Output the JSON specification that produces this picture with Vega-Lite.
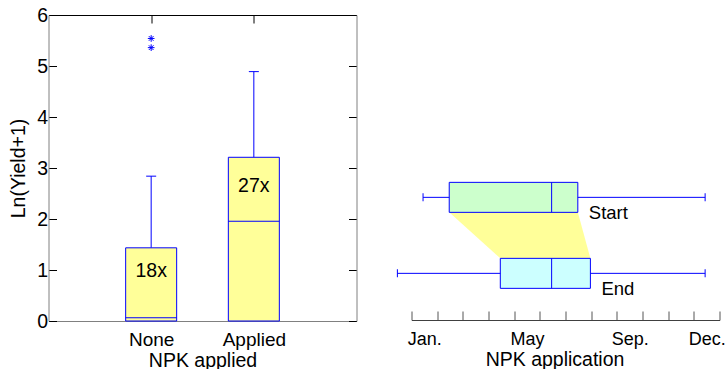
{
  "$schema": "https://vega.github.io/schema/vega-lite/v6.json",
  "background": "white",
  "padding": {"left": 8.5, "top": 5, "right": 5, "bottom": 5},
  "config": {
    "font": "Liberation Sans",
    "view": {"stroke": null},
    "axis": {"grid": false, "labelColor": "#000", "titleColor": "#000", "titleFontWeight": "normal"}
  },
  "datasets": {
    "yields": [
      {"npk": "None", "lo": 0, "q1": 0, "median": 0.065, "q3": 1.435, "hi": 2.84, "mean": 0.98, "trials": "18x"},
      {"npk": "Applied", "lo": 0, "q1": 0, "median": 1.957, "q3": 3.21, "hi": 4.89, "mean": 2.64, "trials": "27x"}
    ],
    "outliers": [
      {"npk": "None", "value": 5.54},
      {"npk": "None", "value": 5.36}
    ],
    "timing": [
      {"phase": "Start", "lane": 1, "lo": 0.45, "q1": 1.47, "median": 5.46, "q3": 6.48, "hi": 11.44},
      {"phase": "End", "lane": 0, "lo": -0.55, "q1": 3.46, "median": 5.46, "q3": 6.97, "hi": 11.44}
    ]
  },
  "spacing": 39,
  "hconcat": [
    {
      "width": 308,
      "height": 306,
      "resolve": {"axis": {"x": "independent", "y": "independent"}},
      "layer": [
        {
          "data": {"name": "yields"},
          "encoding": {
            "x": {
              "field": "npk", "type": "nominal",
              "scale": {"type": "point", "domain": ["None", "Applied"], "padding": 1},
              "axis": {"orient": "bottom", "title": "NPK applied", "labelAngle": 0, "tickSize": -8, "tickColor": "#000", "domainColor": "#808080", "labelFontSize": 19, "labelPadding": 17, "titleFontSize": 19.5, "titlePadding": 2}
            }
          },
          "layer": [
            {
              "mark": {"type": "rule", "color": "#0000ff"},
              "encoding": {
                "y": {
                  "field": "q3", "type": "quantitative",
                  "scale": {"domain": [0, 6], "nice": false},
                  "axis": {"orient": "left", "title": "Ln(Yield+1)", "values": [0, 1, 2, 3, 4, 5, 6], "tickSize": -8, "tickColor": "#000", "domainColor": "#808080", "labelFontSize": 19.5, "labelPadding": 9, "titleFontSize": 19.5, "titlePadding": 8}
                },
                "y2": {"field": "hi"}
              }
            },
            {
              "mark": {"type": "rule", "color": "#0000ff"},
              "encoding": {"y": {"field": "lo", "type": "quantitative"}, "y2": {"field": "q1"}}
            },
            {
              "mark": {"type": "tick", "orient": "horizontal", "color": "#0000ff", "size": 10, "thickness": 1, "opacity": 1},
              "encoding": {"y": {"field": "hi", "type": "quantitative"}}
            },
            {
              "mark": {"type": "bar", "width": 51, "fill": "#ffff99", "stroke": "#0000ff", "strokeWidth": 1},
              "encoding": {"y": {"field": "q1", "type": "quantitative"}, "y2": {"field": "q3"}}
            },
            {
              "mark": {"type": "tick", "orient": "horizontal", "color": "#0000ff", "size": 51, "thickness": 1, "opacity": 1},
              "encoding": {"y": {"field": "median", "type": "quantitative"}}
            },
            {
              "mark": {"type": "text", "fontSize": 19.5, "baseline": "middle", "color": "#000"},
              "encoding": {"y": {"field": "mean", "type": "quantitative"}, "text": {"field": "trials"}}
            }
          ]
        },
        {
          "data": {"name": "outliers"},
          "mark": {"type": "point", "shape": "M-1,0H1M0,-1V1M-0.7,-0.7L0.7,0.7M-0.7,0.7L0.7,-0.7", "filled": false, "stroke": "#0000ff", "strokeWidth": 1, "size": 45, "opacity": 1},
          "encoding": {
            "x": {
              "field": "npk", "type": "nominal",
              "scale": {"type": "point", "domain": ["None", "Applied"], "padding": 1},
              "axis": {"orient": "top", "labels": false, "title": null, "tickSize": -8, "tickColor": "#000", "domainColor": "#000"}
            },
            "y": {
              "field": "value", "type": "quantitative",
              "axis": {"orient": "right", "labels": false, "title": null, "values": [0, 1, 2, 3, 4, 5, 6], "tickSize": -8, "tickColor": "#000", "domainColor": "#808080"}
            }
          }
        }
      ]
    },
    {
      "width": 308,
      "height": 305,
      "data": {"name": "timing"},
      "resolve": {"axis": {"x": "independent"}},
      "encoding": {
        "y": {"field": "lane", "type": "quantitative", "scale": {"domain": [-1.34, 5.29], "nice": false, "zero": false}, "axis": null}
      },
      "layer": [
        {
          "mark": {"type": "area", "orient": "horizontal", "color": "#ffff99", "opacity": 1},
          "encoding": {
            "x": {
              "field": "q1", "type": "quantitative",
              "scale": {"domain": [0, 12], "nice": false, "zero": false},
              "axis": {
                "orient": "bottom", "values": [0, 1, 2, 3, 4, 5, 6, 7, 8, 9, 10, 11, 12],
                "tickSize": -9, "tickColor": "#555", "domainColor": "#404040",
                "labels": false, "title": null
              }
            },
            "x2": {"field": "q3"}
          }
        },
        {
          "transform": [{"filter": "datum.phase === 'Start'"}],
          "layer": [
            {
              "mark": {"type": "rule", "color": "#0000ff", "yOffset": -15},
              "encoding": {
                "x": {
                  "field": "lo", "type": "quantitative",
                  "axis": {
                    "orient": "bottom", "values": [0.5, 4.5, 8.5, 11.5], "ticks": false, "domain": false,
                    "labelExpr": "datum.value < 1 ? 'Jan.' : datum.value < 5 ? 'May' : datum.value < 9 ? 'Sep.' : 'Dec.'",
                    "labelFlush": false, "labelOverlap": false, "labelFontSize": 18, "labelPadding": 10.5,
                    "title": "NPK application", "titleFontSize": 19.5, "titlePadding": 2, "titleX": 143
                  }
                },
                "x2": {"field": "hi"}
              }
            },
            {"mark": {"type": "tick", "orient": "vertical", "color": "#0000ff", "size": 8, "thickness": 1, "opacity": 1, "yOffset": -15}, "encoding": {"x": {"field": "lo", "type": "quantitative"}}},
            {"mark": {"type": "tick", "orient": "vertical", "color": "#0000ff", "size": 8, "thickness": 1, "opacity": 1, "yOffset": -15}, "encoding": {"x": {"field": "hi", "type": "quantitative"}}},
            {"mark": {"type": "rect", "fill": "#ccffcc", "stroke": "#0000ff", "strokeWidth": 1, "y2Offset": -30}, "encoding": {"x": {"field": "q1", "type": "quantitative"}, "x2": {"field": "q3"}, "y2": {"field": "lane"}}},
            {"mark": {"type": "rule", "color": "#0000ff", "y2Offset": -30}, "encoding": {"x": {"field": "median", "type": "quantitative"}, "y2": {"field": "lane"}}},
            {"mark": {"type": "text", "align": "left", "baseline": "alphabetic", "dx": 11, "dy": 7, "fontSize": 18.5, "color": "#000"}, "encoding": {"x": {"field": "q3", "type": "quantitative"}, "text": {"field": "phase"}}}
          ]
        },
        {
          "transform": [{"filter": "datum.phase === 'End'"}],
          "layer": [
            {"mark": {"type": "rule", "color": "#0000ff", "yOffset": 15}, "encoding": {"x": {"field": "lo", "type": "quantitative", "axis": null}, "x2": {"field": "hi"}}},
            {"mark": {"type": "tick", "orient": "vertical", "color": "#0000ff", "size": 8, "thickness": 1, "opacity": 1, "yOffset": 15}, "encoding": {"x": {"field": "lo", "type": "quantitative", "axis": null}}},
            {"mark": {"type": "tick", "orient": "vertical", "color": "#0000ff", "size": 8, "thickness": 1, "opacity": 1, "yOffset": 15}, "encoding": {"x": {"field": "hi", "type": "quantitative", "axis": null}}},
            {"mark": {"type": "rect", "fill": "#ccffff", "stroke": "#0000ff", "strokeWidth": 1, "y2Offset": 30}, "encoding": {"x": {"field": "q1", "type": "quantitative", "axis": null}, "x2": {"field": "q3"}, "y2": {"field": "lane"}}},
            {"mark": {"type": "rule", "color": "#0000ff", "y2Offset": 30}, "encoding": {"x": {"field": "median", "type": "quantitative", "axis": null}, "y2": {"field": "lane"}}},
            {"mark": {"type": "text", "align": "left", "baseline": "alphabetic", "dx": 11, "dy": 37, "fontSize": 18.5, "color": "#000"}, "encoding": {"x": {"field": "q3", "type": "quantitative", "axis": null}, "text": {"field": "phase"}}}
          ]
        }
      ]
    }
  ]
}
